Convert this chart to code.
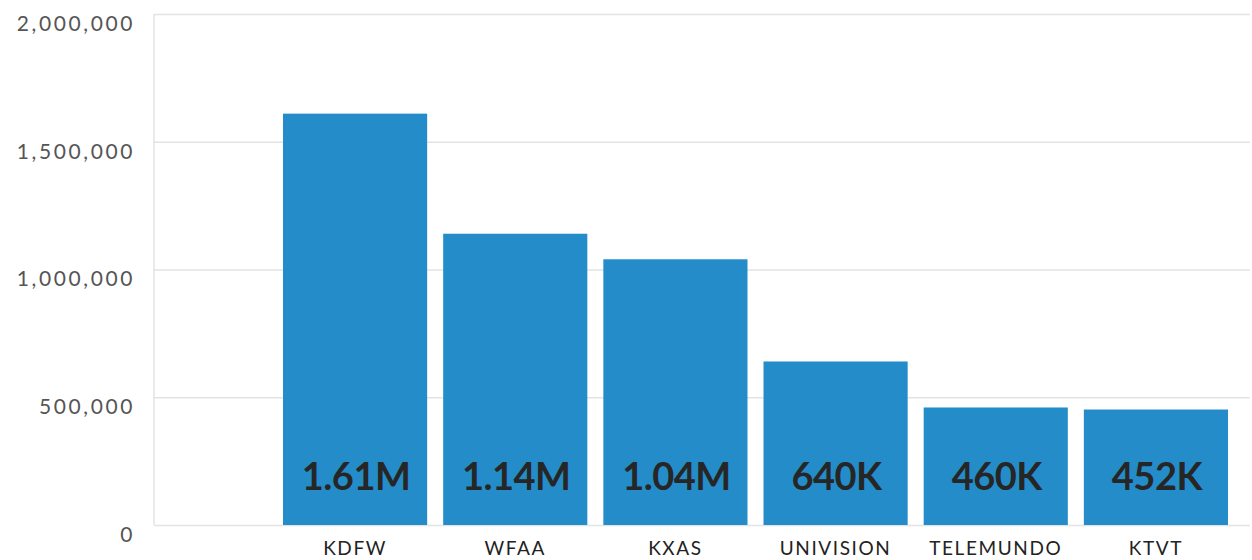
<!DOCTYPE html>
<html>
<head>
<meta charset="utf-8">
<script src="https://cdn.jsdelivr.net/npm/d3@7"></script>
<style>
	body { margin: 0; background: #fff; }
	svg { display: block; font-family: Lato, 'Open Sans', sans-serif; }
</style>
</head>
<body>
<div id="chart"></div>
<script>
const stations = ['KDFW', 'WFAA', 'KXAS', 'UNIVISION', 'TELEMUNDO', 'KTVT']
const viewers = [1610000, 1140000, 1040000, 640000, 460000, 452000]
const valueLabels = ['1.61M', '1.14M', '1.04M', '640K', '460K', '452K']
const yTicks = [0, 500000, 1000000, 1500000, 2000000]

const data = stations.map((s, i) => ({
	station: s,
	value: viewers[i],
	label: valueLabels[i]
}))

const width = 1252,
	height = 560,
	plotLeft = 154,
	plotRight = 1250,
	plotTop = 14,
	plotBottom = 525

const svg = d3
	.select('#chart')
	.append('svg')
	.attr('width', width)
	.attr('height', height)

const x = d3
	.scaleBand()
	.domain(stations)
	.range([275, 1236])
	.paddingInner(0.1)
	.paddingOuter(0.05)

const y = d3
	.scaleLinear()
	.domain([0, 2000000])
	.range([plotBottom, plotTop])

// gridlines + y labels
const yAxis = svg
	.append('g')
	.attr('transform', `translate(${plotLeft},0)`)
	.call(
		d3
			.axisLeft(y)
			.tickValues(yTicks)
			.tickSize(-(plotRight - plotLeft))
			.tickPadding(19)
			.tickFormat(d3.format(','))
	)
	.attr('font-family', null)

yAxis.select('.domain').remove()
yAxis
	.selectAll('.tick line')
	.attr('stroke', '#e3e3e3')
	.attr('stroke-width', 1.5)
yAxis
	.selectAll('.tick text')
	.attr('fill', '#555')
	.attr('font-size', 21)
	.attr('letter-spacing', 2.6)
	.attr('dy', '0.78em')

svg.append('line')
	.attr('x1', plotLeft)
	.attr('x2', plotLeft)
	.attr('y1', plotTop)
	.attr('y2', plotBottom)
	.attr('stroke', '#e3e3e3')
	.attr('stroke-width', 1.5)

svg.selectAll('rect.bar')
	.data(data)
	.enter()
	.append('rect')
	.attr('class', 'bar')
	.attr('x', d => x(d.station))
	.attr('y', d => y(d.value))
	.attr('width', x.bandwidth())
	.attr('height', d => y(0) - y(d.value))
	.attr('fill', '#248dc9')

svg.selectAll('text.val')
	.data(data)
	.enter()
	.append('text')
	.attr('class', 'val')
	.attr('x', d => x(d.station) + x.bandwidth() / 2 + 1)
	.attr('y', 490)
	.attr('text-anchor', 'middle')
	.attr('font-size', 38)
	.attr('font-weight', 'bold')
	.attr('letter-spacing', -0.5)
	.attr('fill', '#262626')
	.text(d => d.label)

svg.selectAll('text.cat')
	.data(data)
	.enter()
	.append('text')
	.attr('class', 'cat')
	.attr('x', d => x(d.station) + x.bandwidth() / 2)
	.attr('y', 555)
	.attr('text-anchor', 'middle')
	.attr('font-size', 19)
	.attr('letter-spacing', 1.6)
	.attr('fill', '#222')
	.text(d => d.station)
</script>
</body>
</html>
